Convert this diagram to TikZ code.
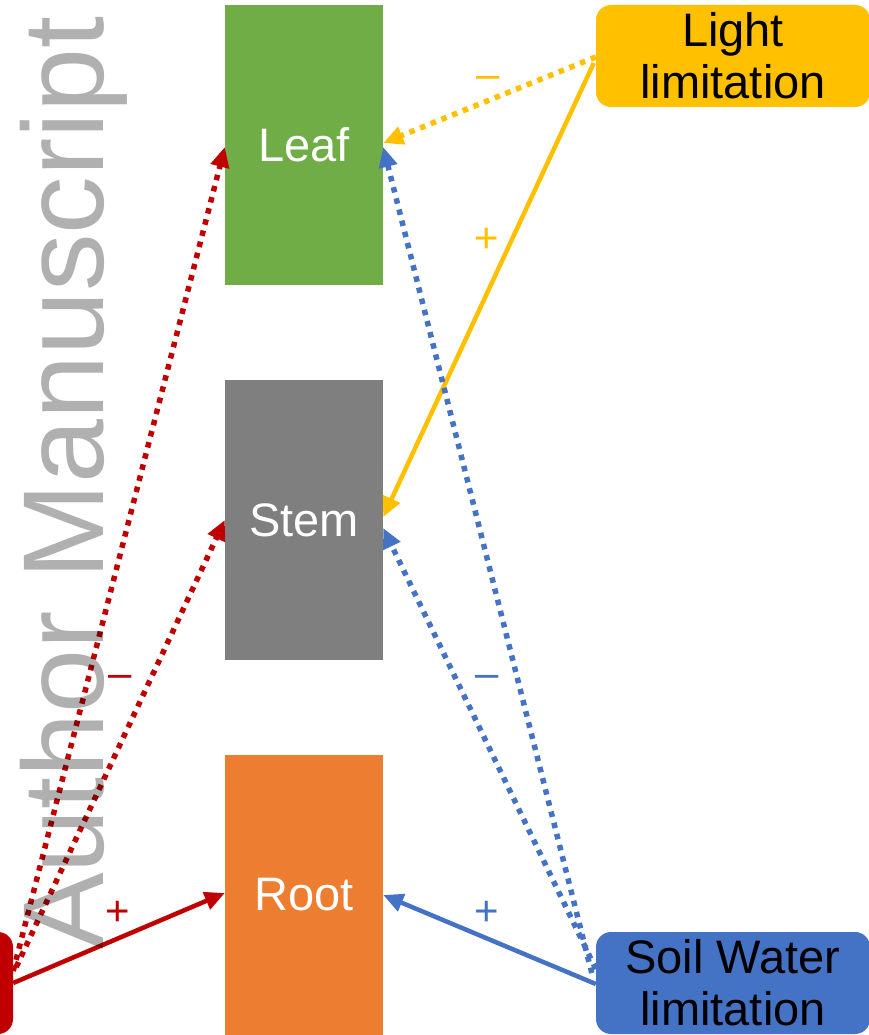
\documentclass[tikz,border=0pt]{standalone}
\usepackage{fontspec}
\setmainfont{Liberation Sans}
\usetikzlibrary{arrows.meta}
\definecolor{leafgreen}{HTML}{70AD47}
\definecolor{stemgray}{HTML}{7F7F7F}
\definecolor{rootorange}{HTML}{ED7D31}
\definecolor{lightyellow}{HTML}{FFC000}
\definecolor{waterblue}{HTML}{4472C4}
\definecolor{darkred}{HTML}{C00000}
\tikzset{
  organ/.style={rectangle, minimum width=158pt, minimum height=280pt, inner sep=0pt,
    text=white, font=\fontsize{47}{54}\selectfont},
  driver/.style={rectangle, rounded corners=15pt, minimum width=274pt, minimum height=102pt,
    inner sep=0pt, align=center, text=black, font=\fontsize{47}{54}\selectfont},
  tip/.style={-{Triangle[length=20pt,width=18pt]}},
  solidlink/.style={tip, line width=4.5pt},
  dotlink/.style={tip, line width=5.5pt, dash pattern=on 5.5pt off 6pt},
  sign/.style={font=\fontsize{42}{42}\selectfont, inner sep=0pt},
}
\begin{document}
\begin{tikzpicture}[x=1pt,y=-1pt]
\useasboundingbox (0,0) rectangle (869,1035);
\begin{scope}
\clip (0,0) rectangle (869,1035);

% plant organs
\node[organ, fill=leafgreen] (leaf) at (304,145) {\raisebox{-3pt}{Leaf}};
\node[organ, fill=stemgray] (stem) at (304,520) {\raisebox{-3pt}{Stem}};
\node[organ, fill=rootorange] (root) at (304,895) {\raisebox{-3pt}{Root}};

% limiting factors
\node[driver, fill=lightyellow] (light) at (733,56) {Light\\[-2pt]limitation};
\node[driver, fill=waterblue] (soil) at (733,983) {Soil Water\\[-2pt]limitation};
\node[driver, fill=darkred] (third) at (-124,983) {};

% red effects
\draw[darkred, solidlink] (third.east) -- ([yshift=2pt]root.west);
\draw[darkred, dotlink] ([yshift=12pt]third.east) -- ([yshift=-2pt]leaf.west);
\draw[darkred, dotlink] ([yshift=16pt,xshift=3pt]third.east) -- (stem.west);
\node[sign, text=darkred] (rp) at (118,913) {+};
\node[sign, text=darkred] (rm) at (120,681) {\textendash};

% light effects
\draw[lightyellow, dotlink] ([yshift=-1pt]light.west) -- ([yshift=2pt]leaf.east);
\draw[lightyellow, solidlink] ([yshift=-7pt,xshift=-2pt]light.west) -- ([yshift=3pt]stem.east);
\node[sign, text=lightyellow] (lp) at (487,240) {+};
\node[sign, text=lightyellow] (lm) at (488,82) {\textendash};

% soil water effects
\draw[waterblue, solidlink] ([yshift=-1pt]soil.west) -- (root.east);
\draw[waterblue, dotlink] ([yshift=10pt,xshift=-4pt]soil.west) -- ([yshift=-2pt]leaf.east);
\draw[waterblue, dotlink] ([yshift=14pt]soil.west) -- ([yshift=-8pt]stem.east);
\node[sign, text=waterblue] (wp) at (487,913) {+};
\node[sign, text=waterblue] (wm) at (487,681) {\textendash};

% watermark
\node[rotate=90, anchor=base west, inner sep=0pt, text=black, text opacity=0.31,
  font=\fontsize{115}{115}\selectfont] (mark) at (103,950) {Author Manuscript};
\end{scope}
\end{tikzpicture}
\end{document}
